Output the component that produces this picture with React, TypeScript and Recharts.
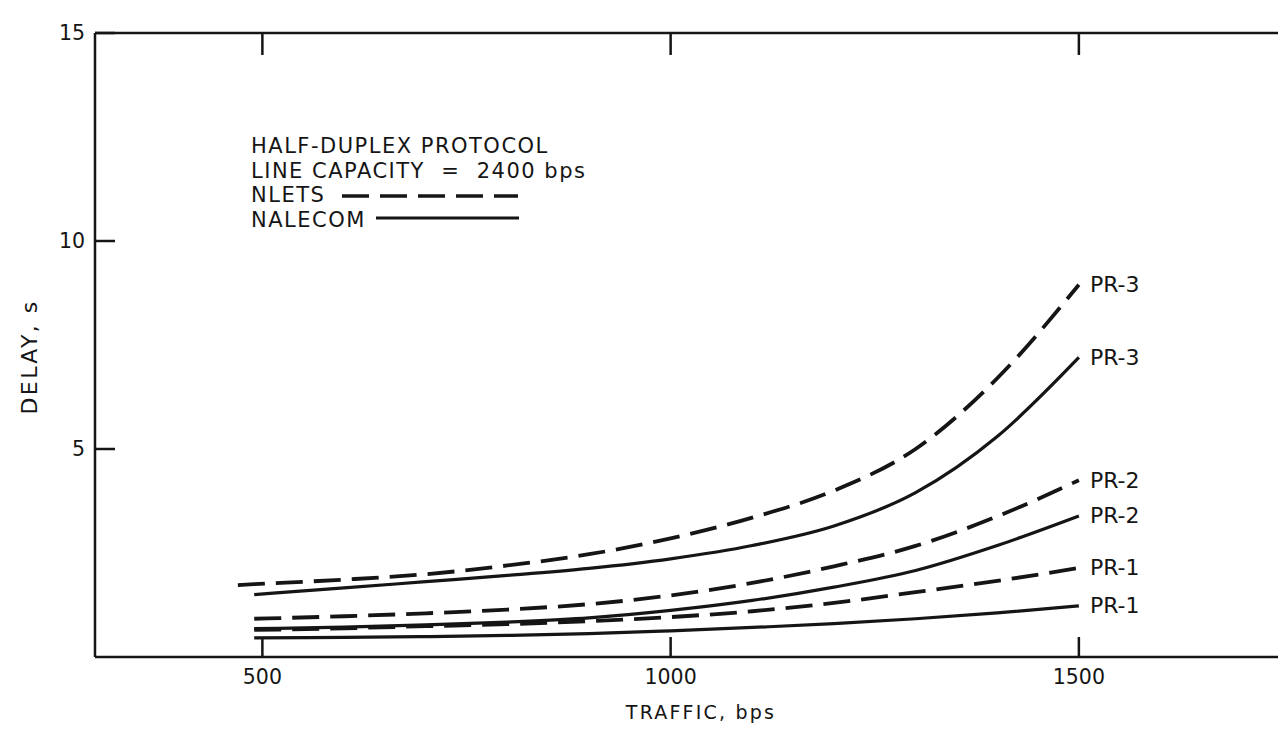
import React from "react";
import { LineChart, Line, XAxis, YAxis, LabelList } from "recharts";

// traffic (bps) sample points
const traffic = [470, 490, 600, 700, 800, 900, 1000, 1100, 1200, 1300, 1400, 1500];

// delay (s) per protocol / priority
const nletsPr3 = [1.73, 1.75, 1.86, 1.99, 2.2, 2.47, 2.85, 3.35, 4.0, 5.0, 6.7, 8.95];
const nalecomPr3 = [null, 1.5, 1.66, 1.81, 1.96, 2.13, 2.36, 2.68, 3.15, 3.95, 5.3, 7.2];
const nletsPr2 = [null, 0.92, 0.98, 1.05, 1.14, 1.27, 1.48, 1.78, 2.18, 2.67, 3.38, 4.25];
const nalecomPr2 = [null, 0.68, 0.72, 0.77, 0.84, 0.94, 1.12, 1.36, 1.68, 2.08, 2.68, 3.39];
const nletsPr1 = [null, 0.65, 0.69, 0.74, 0.79, 0.86, 0.96, 1.1, 1.3, 1.56, 1.83, 2.14];
const nalecomPr1 = [null, 0.46, 0.47, 0.49, 0.52, 0.56, 0.63, 0.71, 0.8, 0.92, 1.06, 1.23];

const xTicks = [500, 1000, 1500];
const yTicks = [5, 10, 15];
const rightTicks = [5, 10];

const legendLines = ["HALF-DUPLEX PROTOCOL", "LINE CAPACITY  =  2400 bps", "NLETS", "NALECOM"];

const series = [
  { key: "nletsPr3", label: "PR-3", dashed: true },
  { key: "nalecomPr3", label: "PR-3", dashed: false },
  { key: "nletsPr2", label: "PR-2", dashed: true },
  { key: "nalecomPr2", label: "PR-2", dashed: false },
  { key: "nletsPr1", label: "PR-1", dashed: true },
  { key: "nalecomPr1", label: "PR-1", dashed: false },
];

const rows = traffic.map((t, i) => ({
  traffic: t,
  nletsPr3: nletsPr3[i],
  nalecomPr3: nalecomPr3[i],
  nletsPr2: nletsPr2[i],
  nalecomPr2: nalecomPr2[i],
  nletsPr1: nletsPr1[i],
  nalecomPr1: nalecomPr1[i],
}));

const ink = "#151515";
const font = "'DejaVu Sans', sans-serif";

const BottomTick = (props: any) => {
  const { x, y, payload } = props;
  return (
    <g>
      <line x1={x} y1={y} x2={x} y2={y - 20} stroke={ink} strokeWidth={2.5} />
      <text x={x} y={y + 27} textAnchor="middle" fill={ink} fontSize={20.5} fontFamily={font}>
        {payload.value}
      </text>
    </g>
  );
};

const TopTick = (props: any) => {
  const { x, y } = props;
  return <line x1={x} y1={y} x2={x} y2={y + 22} stroke={ink} strokeWidth={2.5} />;
};

const LeftTick = (props: any) => {
  const { x, y, payload } = props;
  return (
    <g>
      <line x1={x} y1={y} x2={x + 20} y2={y} stroke={ink} strokeWidth={2.5} />
      <text x={x - 10} y={y} textAnchor="end" dominantBaseline="central" fill={ink} fontSize={20.5} fontFamily={font}>
        {payload.value}
      </text>
    </g>
  );
};

const RightTick = (props: any) => {
  const { x, y } = props;
  return <line x1={x} y1={y} x2={x - 20} y2={y} stroke={ink} strokeWidth={2.5} />;
};

const TrafficTitle = (props: any) => {
  const vb = props.viewBox || {};
  return (
    <text x={vb.x + vb.width / 2 + 12} y={vb.y + 62} textAnchor="middle" fill={ink}
      fontSize={19} letterSpacing={2.2} fontFamily={font}>
      TRAFFIC, bps
    </text>
  );
};

const DelayTitle = (props: any) => {
  const vb = props.viewBox || {};
  const cx = vb.x + vb.width - 66;
  const cy = vb.y + vb.height / 2 + 12;
  return (
    <text x={cx} y={cy} transform={`rotate(-90 ${cx} ${cy})`} textAnchor="middle" dominantBaseline="central"
      fill={ink} fontSize={22} letterSpacing={2.4} fontFamily={font}>
      DELAY, s
    </text>
  );
};

const endLabel = (text: string) => (props: any) => {
  const { x, y, index } = props;
  if (index !== traffic.length - 1) return null;
  return (
    <text x={x + 11} y={y} dominantBaseline="central" fill={ink} fontSize={22} fontFamily={font}>
      {text}
    </text>
  );
};

const LegendBox = () => (
  <svg width={1278} height={722} style={{ position: "absolute", left: 0, top: 0, pointerEvents: "none" }}>
    {legendLines.map((t, i) => (
      <text key={t} x={243} y={145 + i * 24.5} fill={ink} fontSize={21} letterSpacing={1.5}
        fontFamily={font} style={{ whiteSpace: "pre" }}>
        {t}
      </text>
    ))}
    <line x1={334} y1={188} x2={510} y2={188} stroke={ink} strokeWidth={3.5} strokeDasharray="27 11" />
    <line x1={368} y1={210} x2={511} y2={210} stroke={ink} strokeWidth={3} />
  </svg>
);

export default function App() {
  return (
    <div style={{ position: "relative", width: 1278, height: 722, background: "#fff" }}>
      <LineChart width={1278} height={722} data={rows} margin={{ top: 24, right: 2, bottom: 72, left: 86 }}>
        <XAxis dataKey="traffic" type="number" domain={[295, 1750]} ticks={xTicks} interval={0}
          height={1} tickSize={0} tickMargin={0} allowDataOverflow
          axisLine={{ stroke: ink, strokeWidth: 2.5 }} tick={BottomTick} label={TrafficTitle} />
        <XAxis xAxisId="top" orientation="top" dataKey="traffic" type="number" domain={[295, 1750]}
          ticks={xTicks} interval={0} height={1} tickSize={0} tickMargin={0} allowDataOverflow
          axisLine={{ stroke: ink, strokeWidth: 2.5 }} tick={TopTick} />
        <YAxis type="number" domain={[0, 15]} ticks={yTicks} interval={0} width={1} tickSize={0}
          tickMargin={0} axisLine={{ stroke: ink, strokeWidth: 2.5 }} tick={LeftTick} label={DelayTitle} />
        <YAxis yAxisId="right" orientation="right" type="number" domain={[0, 15]} ticks={rightTicks}
          interval={0} width={1} tickSize={0} tickMargin={0} axisLine={{ stroke: ink, strokeWidth: 2.5 }}
          tick={RightTick} />
        {series.map((s) => (
          <Line key={s.key} dataKey={s.key} type="monotone" stroke={ink}
            strokeWidth={s.dashed ? 3.8 : 3.2} strokeDasharray={s.dashed ? "27 11" : undefined}
            dot={false} activeDot={false} isAnimationActive={false}>
            <LabelList dataKey={s.key} content={endLabel(s.label)} />
          </Line>
        ))}
      </LineChart>
      <LegendBox />
    </div>
  );
}
